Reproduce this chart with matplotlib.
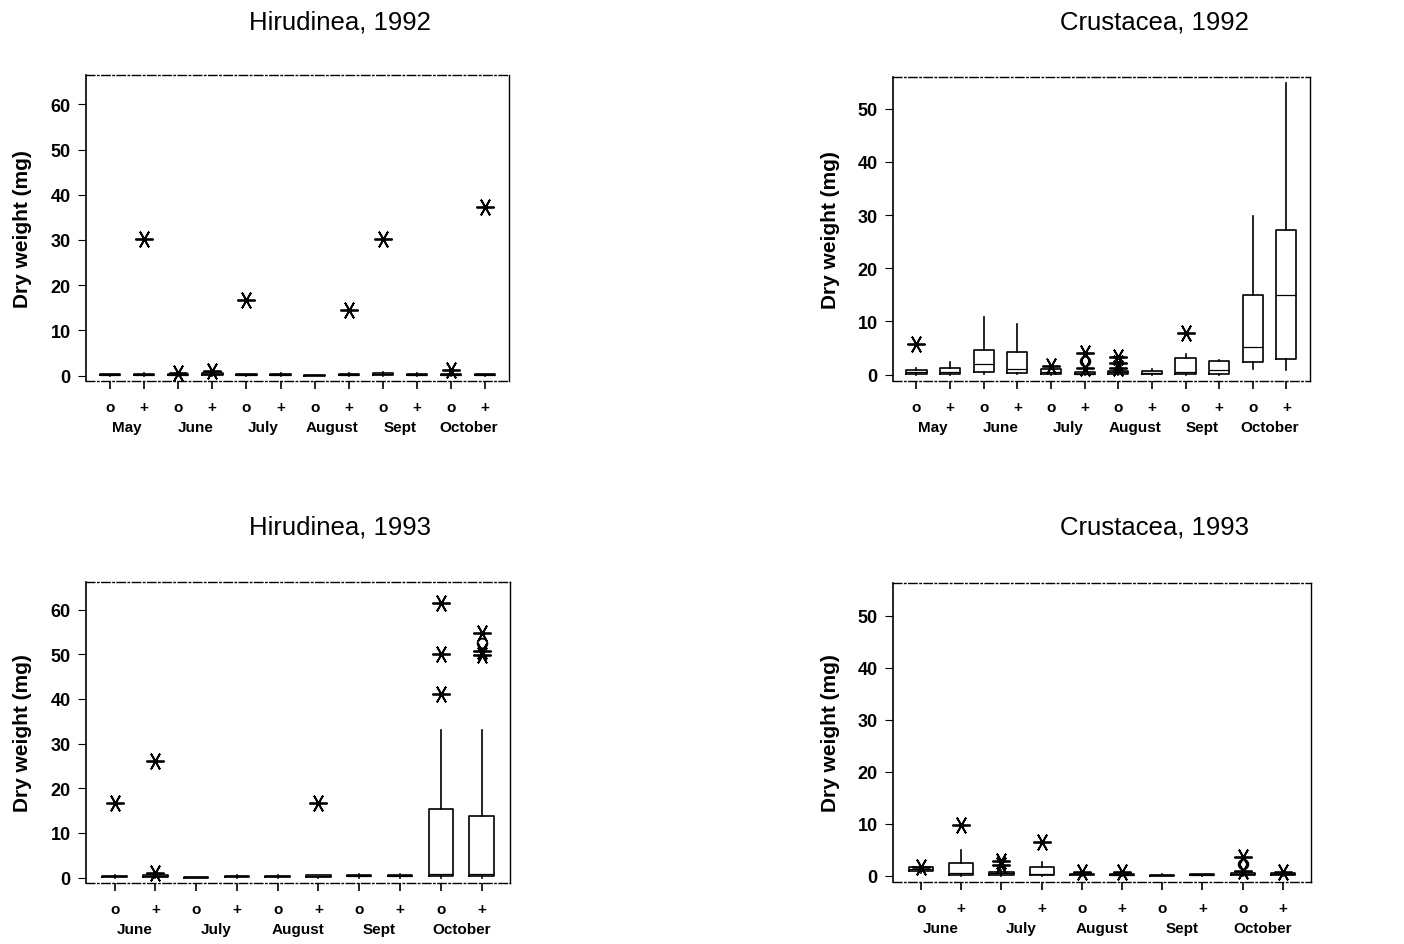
import numpy as np
import matplotlib.pyplot as plt

plt.rcParams['font.family'] = ['Liberation Sans', 'DejaVu Sans']

signs = ['o', '+']
months92 = ['May', 'June', 'July', 'August', 'Sept', 'October']
months93 = ['June', 'July', 'August', 'Sept', 'October']

# one tuple per box: (lower whisker, q1, median, q3, upper whisker), o / + alternating
hir92_box = [(0, 0.05, 0.15, 0.3, 0.4), (0, 0.1, 0.2, 0.35, 0.5),
             (0, 0.05, 0.15, 0.3, 0.4), (0, 0.1, 0.3, 0.6, 0.8),
             (0, 0.05, 0.15, 0.3, 0.4), (0, 0.05, 0.2, 0.35, 0.5),
             (0, 0.0, 0.05, 0.1, 0.2), (0, 0.1, 0.2, 0.35, 0.5),
             (0, 0.15, 0.3, 0.6, 0.8), (0, 0.05, 0.2, 0.35, 0.5),
             (0, 0.05, 0.15, 0.3, 0.5), (0, 0.05, 0.15, 0.3, 0.4)]
hir92_stars = [[], [30.3], [0.6], [1.0], [16.8], [], [], [14.6], [30.3], [], [1.3], [37.3]]
hir92_circles = [[] for _ in range(12)]

cru92_box = [(0, 0.2, 0.4, 0.8, 1.3), (0, 0.1, 0.5, 1.3, 2.3),
             (0.1, 0.4, 1.9, 4.6, 10.8), (0.1, 0.3, 1.1, 4.2, 9.6),
             (0, 0.2, 0.5, 1.0, 1.4), (0, 0.1, 0.2, 0.4, 0.6),
             (0, 0.2, 0.4, 0.7, 1.0), (0, 0.1, 0.3, 0.6, 1.0),
             (0, 0.2, 0.5, 3.2, 3.9), (0, 0.1, 0.8, 2.5, 2.8),
             (1.1, 2.4, 5.2, 15.0, 29.8), (0.8, 2.9, 15.0, 27.2, 54.8)]
cru92_stars = [[5.7], [], [], [], [1.7], [4.0, 1.2], [3.3, 2.1, 1.2], [], [7.8], [], [], []]
cru92_circles = [[], [], [], [], [], [2.6], [], [], [], [], [], []]

hir93_box = [(0, 0.1, 0.25, 0.4, 0.5), (0, 0.1, 0.3, 0.5, 0.7),
             (0, 0.0, 0.05, 0.1, 0.2), (0, 0.1, 0.25, 0.4, 0.5),
             (0, 0.1, 0.25, 0.4, 0.5), (0, 0.2, 0.35, 0.5, 0.6),
             (0, 0.3, 0.45, 0.6, 0.7), (0, 0.3, 0.45, 0.6, 0.7),
             (0, 0.4, 0.8, 15.3, 33.0), (0, 0.4, 0.8, 13.8, 33.0)]
hir93_stars = [[16.6], [26.0, 1.0], [], [], [], [16.6], [], [], [61.5, 50.0, 41.1], [54.7, 50.8, 49.8]]
hir93_circles = [[], [], [], [], [], [], [], [], [], [52.5]]

cru93_box = [(0.5, 1.0, 1.3, 1.6, 1.8), (0, 0.1, 0.5, 2.5, 4.9),
             (0, 0.2, 0.5, 0.8, 1.2), (0, 0.1, 0.4, 1.6, 2.7),
             (0, 0.1, 0.25, 0.4, 0.5), (0, 0.1, 0.2, 0.3, 0.4),
             (0, 0.05, 0.1, 0.2, 0.3), (0, 0.1, 0.2, 0.3, 0.4),
             (0, 0.2, 0.4, 0.6, 0.9), (0, 0.2, 0.3, 0.5, 0.6)]
cru93_stars = [[1.6], [9.7], [2.9, 2.0], [6.4], [0.8], [0.7], [], [], [3.7, 1.0], [0.8]]
cru93_circles = [[], [], [], [], [], [], [], [], [2.2], []]

star = (6, 2, 90)


def draw_panel(ax, boxes, stars, circles, months, ymax, yticks):
    pos = np.arange(1, len(boxes) + 1)
    stats = []
    for b, s in zip(boxes, stars):
        stats.append(dict(whislo=b[0], q1=b[1], med=b[2], q3=b[3], whishi=b[4], fliers=s))
    ax.bxp(stats, positions=pos, widths=0.6, showcaps=False,
           boxprops=dict(color='black', lw=1.2),
           whiskerprops=dict(color='black', lw=1.2),
           medianprops=dict(color='black', lw=0.9),
           flierprops=dict(marker=star, ms=13, mec='black', mew=1.3, ls='none'))
    for p, c in zip(pos, circles):
        if c:
            ax.plot([p] * len(c), c, 'o', mfc='none', mec='black', ms=7, mew=1.3)

    ax.set_xlim(0.3, len(boxes) + 0.7)
    ax.set_ylim(-1.2, ymax)
    ax.set_yticks(yticks)
    ax.set_yticklabels([str(t) for t in yticks], fontweight='bold', fontsize=13)
    ax.set_xticks(pos, [signs[i % 2] for i in range(len(pos))],
                  fontweight='bold', fontsize=11)
    centers = pos[::2] + 0.5
    ax.set_xticks(centers, months, minor=True, fontweight='bold', fontsize=11)
    ax.tick_params(axis='x', which='major', direction='out', length=6, width=1.2, pad=8)
    ax.tick_params(axis='x', which='minor', length=0, pad=28)
    ax.tick_params(axis='y', direction='out', length=6, width=0.8, pad=5)

    ax.spines['left'].set_linewidth(1.2)
    ax.spines['right'].set_linewidth(1.0)
    ax.spines['top'].set_linestyle((0, (6, 2, 1, 2)))
    ax.spines['top'].set_linewidth(1.0)
    ax.spines['bottom'].set_linestyle((0, (6, 2, 1, 2)))
    ax.spines['bottom'].set_linewidth(1.0)

    ax.set_ylabel('Dry weight (mg)', fontweight='bold', fontsize=15, va='center')


fig = plt.figure(figsize=(14.04, 9.45), dpi=100)
ax1 = fig.add_axes([0.0613, 0.5958, 0.3013, 0.3238])
ax2 = fig.add_axes([0.6360, 0.5958, 0.2970, 0.3217])
ax3 = fig.add_axes([0.0613, 0.0646, 0.3020, 0.3185])
ax4 = fig.add_axes([0.6360, 0.0656, 0.2977, 0.3164])

draw_panel(ax1, hir92_box, hir92_stars, hir92_circles, months92, 66.5, range(0, 61, 10))
draw_panel(ax2, cru92_box, cru92_stars, cru92_circles, months92, 56, range(0, 51, 10))
draw_panel(ax3, hir93_box, hir93_stars, hir93_circles, months93, 66.2, range(0, 61, 10))
draw_panel(ax4, cru93_box, cru93_stars, cru93_circles, months93, 56.3, range(0, 51, 10))

for ax in (ax1, ax3):
    ax.yaxis.set_label_coords(-0.151, 0.5)
for ax in (ax2, ax4):
    ax.yaxis.set_label_coords(-0.149, 0.5)

fig.text(0.2422, 0.9767, 'Hirudinea, 1992', ha='center', va='center', fontsize=18.5)
fig.text(0.8226, 0.9767, 'Crustacea, 1992', ha='center', va='center', fontsize=18.5)
fig.text(0.2422, 0.4423, 'Hirudinea, 1993', ha='center', va='center', fontsize=18.5)
fig.text(0.8226, 0.4423, 'Crustacea, 1993', ha='center', va='center', fontsize=18.5)

plt.savefig('out.png', dpi=100)
